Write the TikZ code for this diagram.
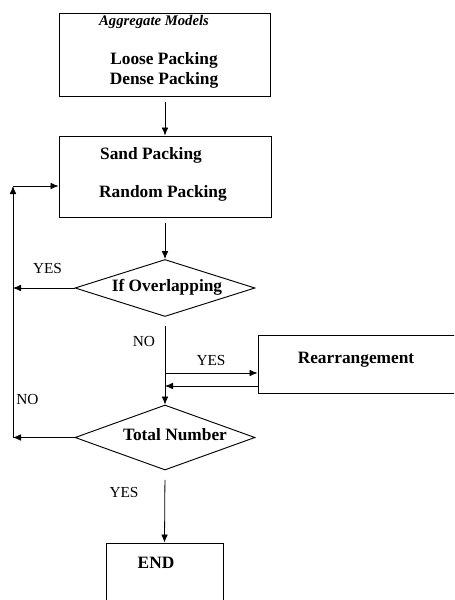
\documentclass[tikz,border=0pt]{standalone}
\usepackage{fontspec}
\setmainfont{Liberation Serif}
\usetikzlibrary{arrows.meta,shapes.geometric}
\tikzset{
	box/.style={draw, line width=.7pt, inner sep=0pt},
	cond/.style={diamond, draw, line width=.7pt, inner sep=0pt},
	txt/.style={font=\fontsize{13}{15}\selectfont\bfseries, inner sep=0pt},
	lbl/.style={font=\fontsize{11.5}{13}\selectfont, inner sep=0pt},
	flow/.style={-{Latex[length=6pt,width=5pt]}, line width=.6pt},
}

\begin{document}
\begin{tikzpicture}[x=.75pt,y=-.75pt]
	\clip (0,0) rectangle (454,600);
	% boxes and decisions
	\node [box, minimum width=211*.75pt, minimum height=83*.75pt] (models) at (165,54.5) {};
	\node [box, minimum width=212*.75pt, minimum height=81*.75pt] (sand) at (165,176.5) {};
	\node [cond, minimum width=180*.75pt, minimum height=57*.75pt] (overlap) at (165,288) {};
	\node [cond, minimum width=180*.75pt, minimum height=65*.75pt] (total) at (165,437.5) {};
	\node [box, minimum width=230*.75pt, minimum height=58*.75pt] (rearr) at (373,364) {};
	\node [box, minimum width=117*.75pt, minimum height=80*.75pt] (end) at (164.5,583) {};
	% texts
	\node [txt, font=\fontsize{11}{13}\selectfont\bfseries\itshape] (agg) at (154,22) {Aggregate Models};
	\node [txt] (loose) at (164,60) {Loose Packing};
	\node [txt] (dense) at (164,80) {Dense Packing};
	\node [txt] (sandtxt) at (151,155) {Sand Packing};
	\node [txt] (random) at (163,193) {Random Packing};
	\node [txt] (iftxt) at (167,287) {If Overlapping};
	\node [txt] (totaltxt) at (175,435) {Total Number};
	\node [txt] (rearrtxt) at (356,360) {Rearrangement};
	\node [txt] (endtxt) at (156,563) {END};
	% connectors
	\coordinate (back) at (13,186);
	\coordinate (fork) at (165,373);
	\coordinate (join) at (165,386);
	\draw [flow, shorten <=4pt] (models.south) -- (sand.north);
	\draw [flow, shorten <=4pt] (sand.south) -- (overlap.north);
	\draw [flow, shorten <=7pt] (overlap.south) -- (total.north);
	\draw [flow] (fork) -- (fork -| rearr.west);
	\draw [flow] (join -| rearr.west) -- (join);
	\draw [flow] (overlap.west) -- (overlap.west -| back);
	\draw [flow] (total.west) -- (total.west -| back);
	\draw [flow] (total.west -| back) -- (back);
	\draw [flow] (back) -- (back -| sand.west);
	\draw [flow, shorten <=7pt] (total.south) -- (end.north);
	% labels
	\node [lbl] (yes1) at (47.5,268) {YES};
	\node [lbl] (no1) at (144,341) {NO};
	\node [lbl] (yes2) at (211,360) {YES};
	\node [lbl] (no2) at (27.5,399) {NO};
	\node [lbl] (yes3) at (124,492) {YES};
\end{tikzpicture}
\end{document}
